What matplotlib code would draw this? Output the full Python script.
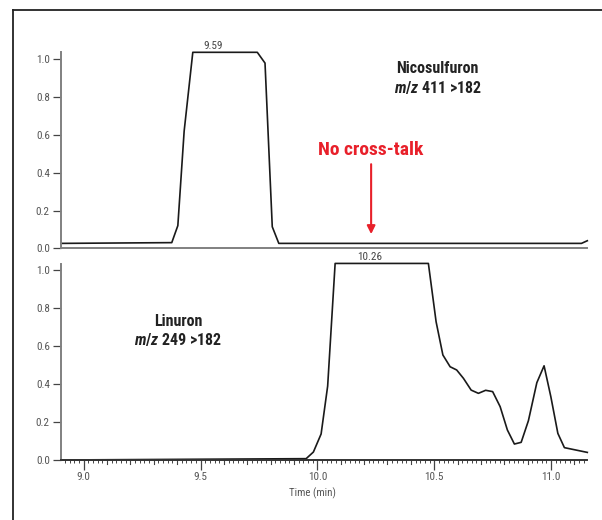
import matplotlib
matplotlib.use("Agg")
import matplotlib.pyplot as plt
from matplotlib.lines import Line2D
from matplotlib.ticker import MultipleLocator, FixedLocator
from matplotlib import font_manager

# ---- data ----
nico_time = [8.903, 9.377, 9.403, 9.43, 9.467, 9.743, 9.776, 9.807, 9.835, 11.13, 11.155]
nico_val = [0.026, 0.03, 0.12, 0.62, 1.037, 1.037, 0.98, 0.114, 0.026, 0.026, 0.04]

lin_time = [8.903, 9.952, 9.983, 10.016, 10.044, 10.076, 10.475, 10.508, 10.537, 10.568,
            10.596, 10.625, 10.658, 10.689, 10.72, 10.75, 10.782, 10.813, 10.843, 10.872,
            10.903, 10.939, 10.970, 10.999, 11.029, 11.057, 11.155]
lin_val = [0.0, 0.007, 0.042, 0.137, 0.389, 1.035, 1.035, 0.728, 0.553, 0.491,
           0.474, 0.43, 0.368, 0.351, 0.367, 0.36, 0.281, 0.158, 0.084, 0.093,
           0.207, 0.407, 0.496, 0.333, 0.140, 0.065, 0.040]

y_ticks = [0.0, 0.2, 0.4, 0.6, 0.8, 1.0]
x_ticks = [9.0, 9.5, 10.0, 10.5, 11.0]
nico_peak_label = "9.59"
lin_peak_label = "10.26"

# pick a narrow font if one is installed
names = {f.name for f in font_manager.fontManager.ttflist}
narrow = [n for n in ('Liberation Sans Narrow', 'Roboto Condensed', 'Open Sans Condensed',
                      'Arial Narrow') if n in names]
if narrow:
    FONT = [narrow[0], 'DejaVu Sans']
else:
    FONT = ['DejaVu Sans']
plt.rcParams['font.family'] = FONT
plt.rcParams['font.stretch'] = 'condensed'
plt.rcParams['mathtext.fontset'] = 'custom'
plt.rcParams['mathtext.it'] = f"{FONT[0]}:italic:bold"
plt.rcParams['mathtext.rm'] = f"{FONT[0]}:bold"
plt.rcParams['mathtext.bf'] = f"{FONT[0]}:bold"

fig = plt.figure(figsize=(6.02, 5.20), dpi=100)

# outer frame (left and top only visible)
fig.add_artist(Line2D([0.021, 0.021], [-0.01, 0.9808], transform=fig.transFigure,
                      color='#222222', lw=1.3))
fig.add_artist(Line2D([0.021, 1.01], [0.9808, 0.9808], transform=fig.transFigure,
                      color='#222222', lw=1.3))

XL = (8.903, 11.155)
ax1 = fig.add_axes([0.1013, 0.5225, 0.8743, 0.3769])
ax2 = fig.add_axes([0.1013, 0.1154, 0.8743, 0.3769])

TICK_FS = 8.0
for ax in (ax1, ax2):
    ax.set_xlim(*XL)
    for s in ('top', 'right'):
        ax.spines[s].set_visible(False)
    for s in ('left', 'bottom'):
        ax.spines[s].set_color('#808080')
        ax.spines[s].set_linewidth(1.4)
    ax.yaxis.set_major_locator(FixedLocator(y_ticks))
    ax.set_yticklabels([f"{v:.1f}" for v in y_ticks])
    ax.tick_params(axis='y', direction='out', length=6, width=0.9, color='#444444',
                   labelsize=TICK_FS, labelcolor='#555555', pad=2)
    ax.set_facecolor('none')
ax2.spines['bottom'].set_color('#333333')

ax1.set_ylim(0, 1.037)
ax2.set_ylim(0, 1.032)

ax1.plot(nico_time, nico_val, color='#1a1a1a', lw=1.2, clip_on=False)
ax2.plot(lin_time, lin_val, color='#1a1a1a', lw=1.2, clip_on=False)

ax1.tick_params(axis='x', which='both', bottom=False, labelbottom=False)

ax2.xaxis.set_major_locator(FixedLocator(x_ticks))
ax2.xaxis.set_minor_locator(MultipleLocator(0.02))
ax2.set_xticklabels([f"{v:.1f}" for v in x_ticks])
ax2.tick_params(axis='x', which='major', direction='out', length=7, width=0.9,
                color='#444444', labelsize=TICK_FS, labelcolor='#555555', pad=1.5)
ax2.tick_params(axis='x', which='minor', direction='out', length=2.5, width=0.7,
                color='#444444')
# medium ticks every 0.1
for t in [round(9.0 + 0.1 * i, 1) for i in range(-1, 23)]:
    if XL[0] <= t <= XL[1] and abs((t * 2) - round(t * 2)) > 1e-6:
        ax2.plot([t, t], [0, -0.022], color='#444444', lw=0.8, clip_on=False)

ax2.set_xlabel("Time (min)", fontsize=7.8, color='#555555')
ax2.xaxis.set_label_coords(0.477, -0.168)
ax2.xaxis.label.set_va('center')

# peak labels
ax1.text(9.555, 1.045, nico_peak_label, ha='center', va='bottom', fontsize=8,
         color='#444444')
ax2.text(10.225, 1.04, lin_peak_label, ha='center', va='bottom', fontsize=8,
         color='#444444')

# compound annotations
big = 11.5
ax1.text(10.515, 0.952, "Nicosulfuron", ha='center', va='center', fontsize=big,
         fontweight='bold', color='#222222')
ax1.text(10.515, 0.85, r"$\it{m/z}$ 411 >182", ha='center', va='center',
         fontsize=big, fontweight='bold', color='#222222')

ax2.text(9.404, 0.728, "Linuron", ha='center', va='center', fontsize=big,
         fontweight='bold', color='#222222')
ax2.text(9.404, 0.632, r"$\it{m/z}$ 249 >182", ha='center', va='center',
         fontsize=big, fontweight='bold', color='#222222')

# No cross-talk
ax1.text(10.23, 0.52, "No cross-talk", ha='center', va='center', fontsize=14,
         fontweight='bold', color='#e8202a')
ax1.annotate("", xy=(10.23, 0.075), xytext=(10.23, 0.445),
             arrowprops=dict(arrowstyle='-|>', color='#e8202a', lw=1.5,
                             mutation_scale=12, shrinkA=0, shrinkB=0))

fig.savefig("out.png", dpi=100)
